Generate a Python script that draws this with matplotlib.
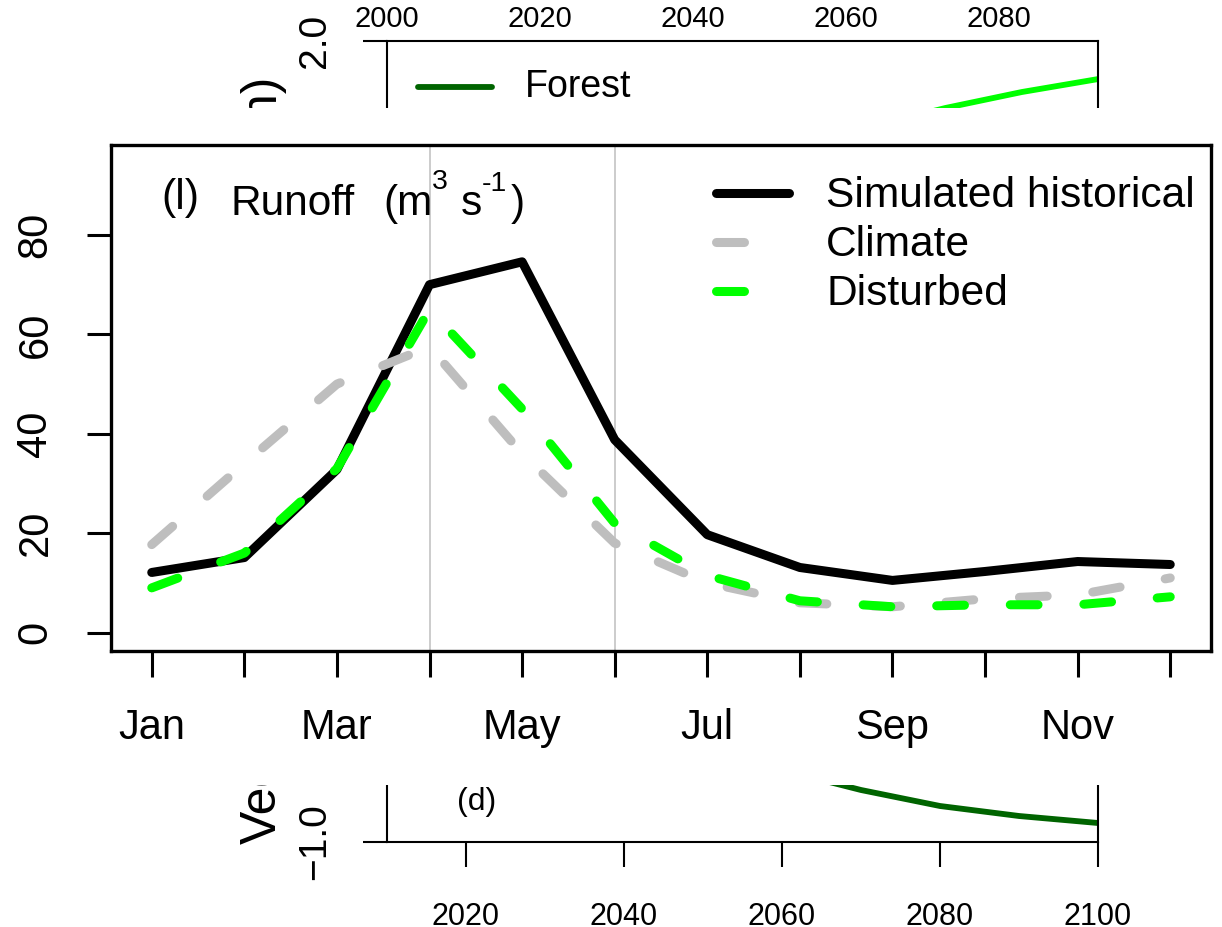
import numpy as np
import matplotlib
matplotlib.use("Agg")
import matplotlib.pyplot as plt

plt.rcParams['font.family'] = ['Liberation Sans', 'DejaVu Sans']
plt.rcParams['lines.scale_dashes'] = False

# Monthly runoff (m3 s-1)
months = np.arange(1, 13)
month_labels = ['Jan', '', 'Mar', '', 'May', '', 'Jul', '', 'Sep', '', 'Nov', '']
historical = [12.1, 15.1, 32.8, 70.0, 74.6, 38.8, 19.7, 13.1, 10.5, 12.3, 14.3, 13.7]
climate = [17.7, 34.0, 50.0, 57.5, 36.0, 18.0, 10.0, 6.0, 5.2, 6.8, 7.6, 11.0]
disturbed = [9.0, 16.0, 33.0, 65.0, 45.0, 22.0, 11.5, 6.4, 5.2, 5.6, 5.6, 7.2]

# panels behind the runoff plot
forest_years = [2063, 2073, 2083, 2093]
forest_vals = [1.57, 1.665, 1.745, 1.81]
veg_years = [2060, 2070, 2080, 2090, 2100]
veg_vals = [-0.64, -0.74, -0.82, -0.87, -0.905]

W, H = 1222, 927
fig = plt.figure(figsize=(W / 100, H / 100), dpi=100)


def box(x0, y0, x1, y1):
    return [x0 / W, 1 - y1 / H, (x1 - x0) / W, (y1 - y0) / H]


def ftext(ax, px, py, s, **kw):
    # text placed in figure pixels (from top-left)
    return ax.text(px / W, 1 - py / H, s, transform=fig.transFigure, **kw)


# --- upper background panel ---
top = fig.add_axes(box(387, 41, 1098, 441), zorder=1)
top.set_xlim(2000, 2000 + (1098 - 387) / 153 * 20)
top.set_ylim(0, 2.0)
top.plot(forest_years, forest_vals, color='#00FF00', lw=4.2, solid_capstyle='butt')
top.plot([418 / W, 492 / W], [1 - 87 / H, 1 - 87 / H], color='#006400', lw=4.2,
         solid_capstyle='round', transform=fig.transFigure)
ftext(top, 525, 87, 'Forest', fontsize=27, va='center')
top.set_xticks([2000, 2020, 2040, 2060, 2080])
top.tick_params(axis='x', top=True, labeltop=True, bottom=False, labelbottom=False,
                length=0, pad=6, labelsize=21)
top.set_yticks([0.0, 1.0, 2.0])
top.set_yticklabels(['0.0', '1.0', '2.0'])
top.tick_params(axis='y', length=17, width=1.5, pad=22, labelsize=28, labelrotation=90)
for lab in top.get_yticklabels():
    lab.set_va('center')
ftext(top, 277, 77, 'Height (m)', fontsize=36, rotation=90,
      rotation_mode='anchor', ha='right', va='baseline')
for s in top.spines.values():
    s.set_linewidth(1.5)

# --- lower background panel ---
bot = fig.add_axes(box(387, 442, 1098, 842), zorder=1)
bot.set_xlim(2010, 2100)
bot.set_ylim(-1.0, 1.0)
bot.plot(veg_years, veg_vals, color='#006400', lw=4.2)
bot.set_xticks([2020, 2040, 2060, 2080, 2100])
bot.tick_params(axis='x', length=18, width=1.5, pad=25, labelsize=22)
bot.set_yticks([-1.0, 0.0, 1.0])
bot.set_yticklabels(['\u22121.0', '0.0', '1.0'])
bot.tick_params(axis='y', length=17, width=1.5, pad=22, labelsize=28, labelrotation=90)
for lab in bot.get_yticklabels():
    lab.set_va('center')
ftext(bot, 477, 802, '(d)', fontsize=23, ha='center', va='center')
ftext(bot, 276, 844, 'Vegetation', fontsize=36, rotation=90,
      rotation_mode='anchor', ha='left', va='baseline')
for s in bot.spines.values():
    s.set_linewidth(1.5)

# white figure region of the runoff plot
cover = fig.add_axes(box(0, 108, W, 785), zorder=2)
cover.set_facecolor('white')
cover.set_xticks([])
cover.set_yticks([])
for s in cover.spines.values():
    s.set_visible(False)

# --- runoff plot ---
ax = fig.add_axes(box(111, 145, 1211, 651), zorder=3)
ax.set_xlim(0.56, 12.44)
ax.set_ylim(-3.7, 98.1)

ax.axvline(4, color='#BEBEBE', lw=1.1, zorder=1)
ax.axvline(6, color='#BEBEBE', lw=1.1, zorder=1)

ax.plot(months, historical, color='black', lw=6.5, solid_capstyle='round',
        solid_joinstyle='round', zorder=2)
ax.plot(months, climate, color='#BEBEBE', lw=6.5, dashes=(20, 33),
        dash_capstyle='round', dash_joinstyle='round', zorder=3)
ax.plot(months, disturbed, color='#00FF00', lw=6.5, dashes=(20, 33),
        dash_capstyle='round', dash_joinstyle='round', zorder=4)

ax.set_xticks(months)
ax.set_xticklabels(month_labels)
ax.tick_params(axis='x', length=19, width=2.2, pad=22, labelsize=30)
ax.set_yticks([0, 20, 40, 60, 80])
ax.tick_params(axis='y', length=17, width=2.2, pad=23, labelsize=30, labelrotation=90)
for lab in ax.get_yticklabels():
    lab.set_va('center')
for s in ax.spines.values():
    s.set_linewidth(2.4)

# panel title with superscript units
ftext(ax, 161, 209, '(l)', fontsize=31)
ftext(ax, 230, 215, 'Runoff', fontsize=30.5)
ftext(ax, 383, 215, '(m', fontsize=30.5)
ftext(ax, 432, 189, '3', fontsize=20.5)
ftext(ax, 461, 215, 's', fontsize=30.5)
ftext(ax, 482, 191, '-1', fontsize=20.5)
ftext(ax, 511, 215, ')', fontsize=30.5)

# legend drawn by hand
leg = [('Simulated historical', 'black', 789, 193),
       ('Climate', '#BEBEBE', 743.5, 242),
       ('Disturbed', '#00FF00', 743.5, 291)]
for name, col, x_end, ly in leg:
    ax.plot([715.5 / W, x_end / W], [1 - ly / H] * 2, color=col, lw=6.5,
            solid_capstyle='round', transform=fig.transFigure)
    ftext(ax, 826, ly + 14, name, fontsize=30.6, va='baseline')

fig.savefig('out.png', dpi=100)
